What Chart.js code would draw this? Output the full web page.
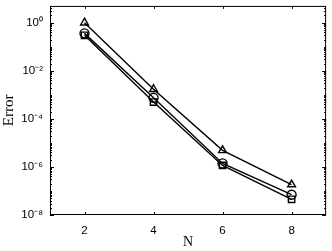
<!DOCTYPE html>
<html>
<head>
<meta charset="utf-8">
<script src="https://cdn.jsdelivr.net/npm/chart.js@4"></script>
<style>
  html, body { margin: 0; padding: 0; background: #fff; }
  #wrap { width: 332px; height: 251px; }
</style>
</head>
<body>
<div id="wrap"><canvas id="c"></canvas></div>
<script>
// convergence plot: error vs N, log y-axis, three methods
var N = [2, 4, 6, 8];
var errTriangle = [1.0, 1.7e-3, 4.9e-6, 1.85e-7];
var errCircle   = [0.36, 7.5e-4, 1.4e-6, 7.0e-8];
var errSquare   = [0.30, 5.0e-4, 1.15e-6, 4.5e-8];
var xTicks = [2, 4, 6, 8];
var yTicks = [1e-8, 1e-6, 1e-4, 1e-2, 1e0];
var yTickLabels = ["10\u207B\u2078", "10\u207B\u2076", "10\u207B\u2074", "10\u207B\u00B2", "10\u2070"];

function pts(ys) { return N.map(function (x, i) { return { x: x, y: ys[i] }; }); }
function series(ys, style) {
  return { data: pts(ys), borderColor: "#000", backgroundColor: "rgba(0,0,0,0)",
           borderWidth: 1.4, pointStyle: style, pointRadius: 4.5, pointBorderWidth: 1.4,
           pointBorderColor: "#000", pointBackgroundColor: "rgba(0,0,0,0)" };
}

// MATLAB-like box with inward ticks on all four sides
var boxTicks = {
  id: "boxTicks",
  afterDraw: function (chart) {
    var ctx = chart.ctx, a = chart.chartArea, xs = chart.scales.x, ys = chart.scales.y;
    ctx.save();
    ctx.strokeStyle = "#000"; ctx.lineWidth = 1;
    ctx.strokeRect(a.left + 0.5, a.top + 0.5, a.right - a.left - 1, a.bottom - a.top - 1);
    ctx.beginPath();
    xTicks.forEach(function (v) {
      var p = Math.round(xs.getPixelForValue(v)) + 0.5;
      ctx.moveTo(p, a.bottom); ctx.lineTo(p, a.bottom - 3);
      ctx.moveTo(p, a.top); ctx.lineTo(p, a.top + 3);
    });
    for (var e = -8; e <= 0; e++) {
      for (var m = 1; m <= 9; m++) {
        var v = m * Math.pow(10, e);
        if (v > ys.max) continue;
        var p = Math.round(ys.getPixelForValue(v)) + 0.5;
        var len = (m === 1 && e % 2 === 0) ? 4 : 2;
        ctx.moveTo(a.left, p); ctx.lineTo(a.left + len, p);
        ctx.moveTo(a.right, p); ctx.lineTo(a.right - len, p);
      }
    }
    ctx.stroke();
    ctx.restore();
  }
};

new Chart(document.getElementById("c"), {
  type: "line",
  data: { datasets: [series(errTriangle, "triangle"), series(errCircle, "circle"), series(errSquare, "rect")] },
  options: {
    responsive: true, maintainAspectRatio: false, animation: false,
    layout: { padding: { top: 1, right: 2, left: 0, bottom: 0 } },
    plugins: { legend: { display: false }, tooltip: { enabled: false } },
    scales: {
      x: {
        type: "linear", min: 1, max: 9,
        grid: { display: false, drawTicks: false }, border: { display: false },
        afterBuildTicks: function (s) { s.ticks = xTicks.map(function (v) { return { value: v }; }); },
        afterFit: function (s) { s.height = 36; s.paddingLeft = 0; s.paddingRight = 0; },
        ticks: { color: "#000", padding: 9, maxRotation: 0,
                 font: { family: "Liberation Sans", size: 11.5 } },
        title: { display: true, text: "N", color: "#000", padding: { top: 0, bottom: 0 },
                 font: { family: "Liberation Serif", size: 14 } }
      },
      y: {
        type: "logarithmic", min: 1e-8, max: 5,
        grid: { display: false, drawTicks: false }, border: { display: false },
        afterBuildTicks: function (s) { s.ticks = yTicks.map(function (v) { return { value: v }; }); },
        afterFit: function (s) { s.width = 50; s.paddingTop = 0; s.paddingBottom = 0; },
        ticks: { color: "#000", padding: 7,
                 font: { family: "Liberation Sans", size: 11.5 },
                 callback: function (v) { var i = yTicks.indexOf(v); return i >= 0 ? yTickLabels[i] : ""; } },
        title: { display: true, text: "Error", color: "#000", padding: { top: 0, bottom: 0 },
                 font: { family: "Liberation Serif", size: 15 } }
      }
    }
  },
  plugins: [boxTicks]
});
</script>
</body>
</html>
